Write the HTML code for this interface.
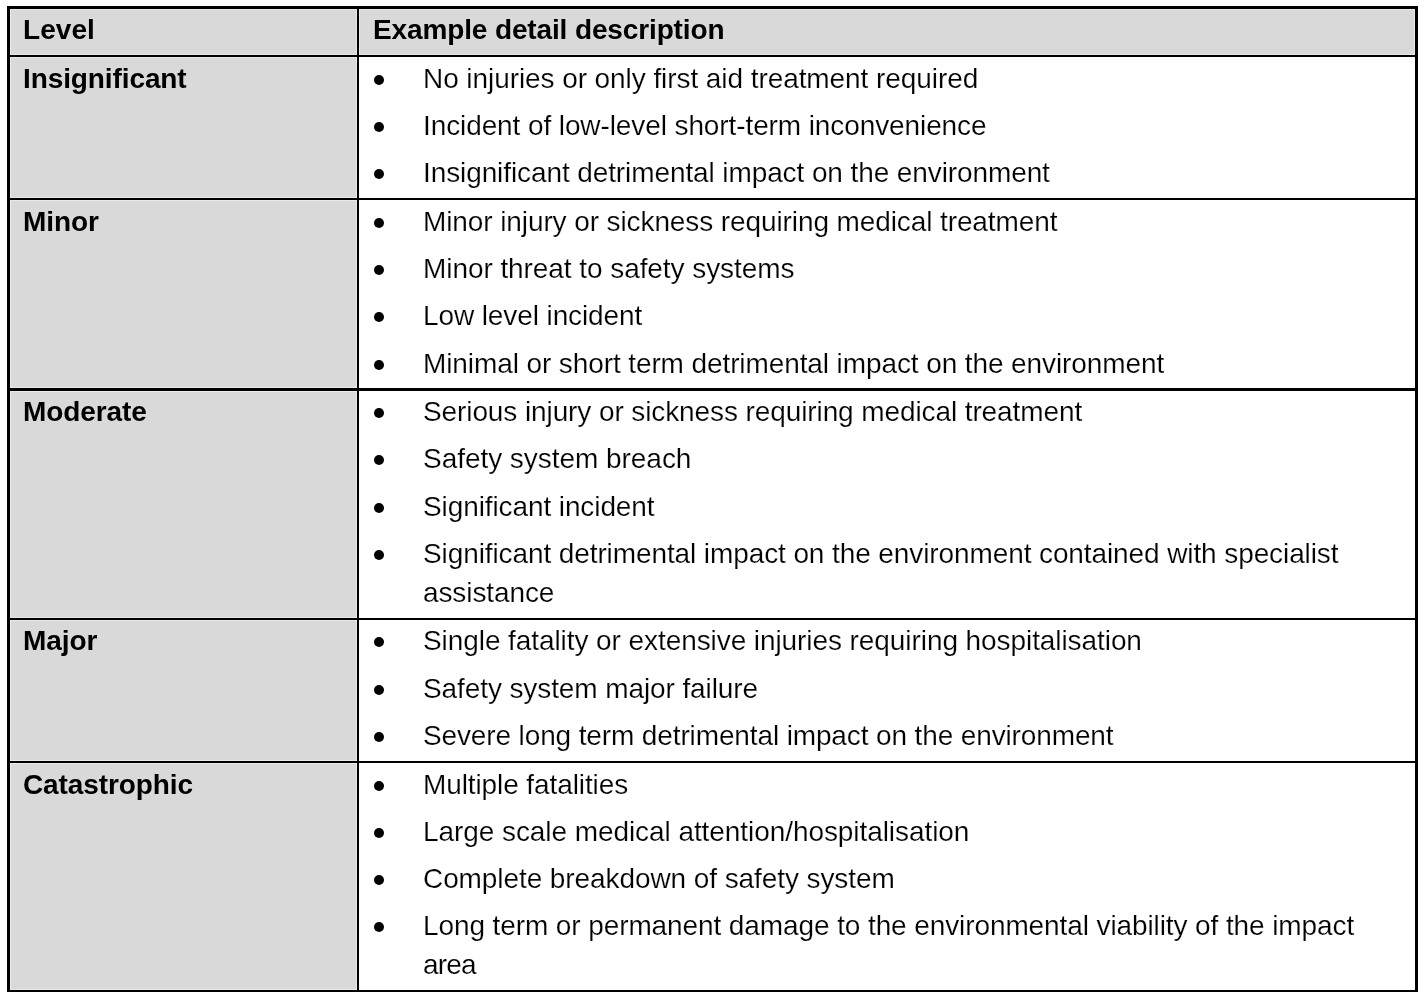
<!DOCTYPE html>
<html lang="en">
<head>
<meta charset="utf-8">
<title>Consequence levels</title>
<style>
  html, body { margin: 0; padding: 0; background: #fff; }
  body { width: 1420px; height: 992px; overflow: hidden; position: relative;
         font-family: "Liberation Sans", sans-serif; color: #000; }
  table { position: absolute; left: 7px; top: 6px; width: 1411px;
          border-collapse: separate; border-spacing: 0; table-layout: fixed;
          font-size: 28px; line-height: 39px; letter-spacing: -0.1px; }
  col.c1 { width: 352px; }
  col.c2 { width: 1059px; }
  th, td { padding: 0; margin: 0; vertical-align: top; text-align: left; box-sizing: border-box;
           border: 0 solid #000; border-bottom-width: 2px; white-space: nowrap; overflow: hidden; }
  th { font-weight: bold; background: #d9d9d9; box-shadow: inset 0 0 0 1px #e9e9e9; border-left-width: 3px; border-right-width: 2px; padding-left: 13px; }
  td { background: #fff; border-right-width: 3px; font-weight: normal; -webkit-text-stroke: 0.18px #fff; }
  thead th { border-top-width: 3px; height: 51px; padding-top: 1px; }
  thead th { letter-spacing: 0.05px; }
  thead th.h2 { border-left-width: 0; border-right-width: 3px; padding-left: 14px; letter-spacing: -0.13px; }
  tbody th { padding-top: 2px; }
  tr.r1 > * { height: 143px; }
  tr.r2 > * { height: 191px; border-bottom-width: 3px; }
  tr.r3 > * { height: 229px; }
  tr.r4 > * { height: 143px; }
  tr.r5 > * { height: 229px; }
  tr.r3 > th, tr.r4 > th { padding-top: 1px; }
  tr.r3 ul, tr.r4 ul { padding-top: 1px; }
  ul { list-style: none; margin: 0; padding: 2px 0 0 0; }
  li { position: relative; margin: 0 0 8px 0; height: 39px; padding: 0 0 0 64px; }
  li.w { margin-bottom: 9px; }
  li.two { height: 78px; }
  li:last-child { margin-bottom: 0; }
  li::before { content: ""; position: absolute; left: 15px; top: 16px; width: 10px; height: 10px;
               border-radius: 50%; background: #000; }
</style>
</head>
<body>
<table>
  <colgroup><col class="c1"><col class="c2"></colgroup>
  <thead>
    <tr><th scope="col">Level</th><th scope="col" class="h2">Example detail description</th></tr>
  </thead>
  <tbody>
    <tr class="r1">
      <th scope="row">Insignificant</th>
      <td><ul>
        <li style="letter-spacing:-0.074px">No injuries or only first aid treatment required</li>
        <li>Incident of low-level short-term inconvenience</li>
        <li>Insignificant detrimental impact on the environment</li>
      </ul></td>
    </tr>
    <tr class="r2">
      <th scope="row">Minor</th>
      <td><ul>
        <li>Minor injury or sickness requiring medical treatment</li>
        <li style="letter-spacing:-0.069px">Minor threat to safety systems</li>
        <li class="w">Low level incident</li>
        <li>Minimal or short term detrimental impact on the environment</li>
      </ul></td>
    </tr>
    <tr class="r3">
      <th scope="row">Moderate</th>
      <td><ul>
        <li>Serious injury or sickness requiring medical treatment</li>
        <li style="letter-spacing:-0.042px" class="w">Safety system breach</li>
        <li>Significant incident</li>
        <li class="two">Significant detrimental impact on the environment contained with specialist<br>assistance</li>
      </ul></td>
    </tr>
    <tr class="r4">
      <th scope="row">Major</th>
      <td><ul>
        <li style="letter-spacing:-0.077px" class="w">Single fatality or extensive injuries requiring hospitalisation</li>
        <li>Safety system major failure</li>
        <li style="letter-spacing:-0.126px">Severe long term detrimental impact on the environment</li>
      </ul></td>
    </tr>
    <tr class="r5">
      <th scope="row">Catastrophic</th>
      <td><ul>
        <li>Multiple fatalities</li>
        <li style="letter-spacing:-0.07px">Large scale medical attention/hospitalisation</li>
        <li style="letter-spacing:-0.085px">Complete breakdown of safety system</li>
        <li class="two">Long term or permanent damage to the environmental viability of the impact<br><span style="letter-spacing:-0.8px">area</span></li>
      </ul></td>
    </tr>
  </tbody>
</table>
</body>
</html>
